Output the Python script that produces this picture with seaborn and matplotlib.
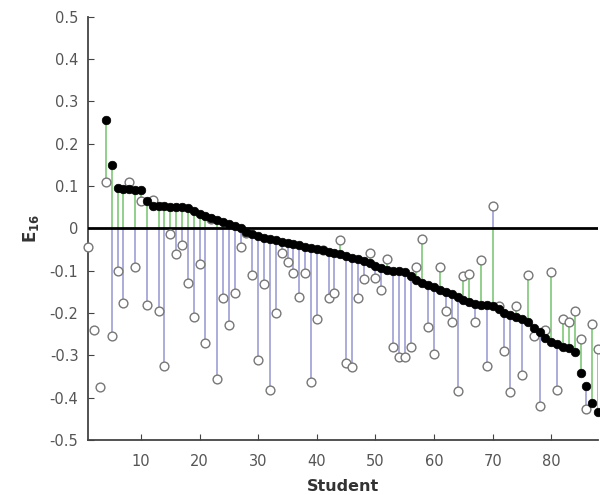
import numpy as np
import pandas as pd
import seaborn as sns
import matplotlib.pyplot as plt

# student index
students = np.arange(1, 89)

# sorted E16 (filled dots); students 1-3 have no value
e_filled = [np.nan, np.nan, np.nan,
            0.257, 0.151, 0.095, 0.094, 0.093, 0.091, 0.090, 0.066, 0.053, 0.052,
            0.052, 0.051, 0.051, 0.050, 0.049, 0.042, 0.035, 0.030, 0.025, 0.020,
            0.015, 0.010, 0.005, 0.000, -0.008, -0.013, -0.018, -0.022, -0.025, -0.028,
            -0.031, -0.034, -0.037, -0.040, -0.043, -0.046, -0.049, -0.052, -0.055, -0.058,
            -0.061, -0.065, -0.069, -0.073, -0.077, -0.082, -0.088, -0.093, -0.098, -0.100,
            -0.101, -0.104, -0.112, -0.122, -0.128, -0.133, -0.139, -0.145, -0.150, -0.155,
            -0.162, -0.168, -0.173, -0.178, -0.180, -0.182, -0.184, -0.190, -0.200, -0.205,
            -0.210, -0.215, -0.222, -0.235, -0.245, -0.260, -0.268, -0.274, -0.279, -0.283,
            -0.292, -0.342, -0.373, -0.413, -0.434]

# second estimate (open circles)
e_open = [-0.043, -0.240, -0.375,
          0.110, -0.255, -0.100, -0.175, 0.110, -0.090, 0.064, -0.180, 0.068, -0.195,
          -0.325, -0.014, -0.061, -0.040, -0.130, -0.210, -0.085, -0.270, 0.022, -0.356,
          -0.165, -0.227, -0.152, -0.045, -0.010, -0.110, -0.310, -0.132, -0.382, -0.200,
          -0.058, -0.080, -0.106, -0.161, -0.106, -0.364, -0.215, -0.050, -0.165, -0.152,
          -0.028, -0.318, -0.328, -0.165, -0.120, -0.057, -0.116, -0.146, -0.073, -0.281,
          -0.304, -0.304, -0.281, -0.090, -0.026, -0.233, -0.297, -0.090, -0.196, -0.222,
          -0.384, -0.113, -0.108, -0.222, -0.075, -0.325, 0.052, -0.184, -0.290, -0.387,
          -0.184, -0.347, -0.111, -0.255, -0.420, -0.240, -0.104, -0.382, -0.215, -0.222,
          -0.196, -0.262, -0.427, -0.226, -0.285]

df = pd.DataFrame({'student': students, 'filled': e_filled, 'open': e_open})

sns.set_style('ticks')
fig, ax = plt.subplots(figsize=(6, 4.95), dpi=100)
fig.subplots_adjust(left=0.147, right=0.997, top=0.966, bottom=0.111)

green = '#8ddc78'
blue = '#9696d2'

# blue: whole span between the two estimates
has = df.dropna(subset=['filled'])
ax.vlines(has['student'], has['open'], has['filled'], color=blue, lw=1.1, zorder=1)
# green: the part lying between the filled dot and zero
lo = np.minimum(has['filled'], 0)
hi = np.maximum(has['filled'], 0)
g_end = np.clip(has['open'], lo, hi)
ax.vlines(has['student'], g_end, has['filled'], color=green, lw=1.1, zorder=2)

ax.axhline(0, color='black', lw=2, zorder=3)

sns.scatterplot(data=df, x='student', y='open', ax=ax, s=40, marker='o',
                facecolor='white', edgecolor='#777777', linewidth=1.0, zorder=4,
                clip_on=False)
sns.scatterplot(data=has, x='student', y='filled', ax=ax, s=38, color='black',
                edgecolor='black', linewidth=0.5, zorder=5, clip_on=False)

ax.set_xlim(1, 88)
ax.set_ylim(-0.5, 0.5)
ax.set_xticks(range(10, 81, 10))
ax.set_yticks(np.round(np.arange(-0.5, 0.51, 0.1), 1))
ax.set_yticklabels(['-0.5', '-0.4', '-0.3', '-0.2', '-0.1', '0',
                    '0.1', '0.2', '0.3', '0.4', '0.5'])
ax.tick_params(direction='in', length=4, colors='#444444', labelsize=10.5,
               labelcolor='#555555')
ax.tick_params(axis='x', pad=10)
ax.tick_params(axis='y', pad=7)
sns.despine(ax=ax)
for sp in ['left', 'bottom']:
    ax.spines[sp].set_color('#444444')
    ax.spines[sp].set_linewidth(1.3)

ax.set_xlabel('Student', fontsize=11.5, fontweight='bold', color='#333333', labelpad=7)
ax.set_ylabel(r'$\mathbf{E_{16}}$', fontsize=12, color='#333333', labelpad=6)

plt.savefig('out.png', dpi=100)
